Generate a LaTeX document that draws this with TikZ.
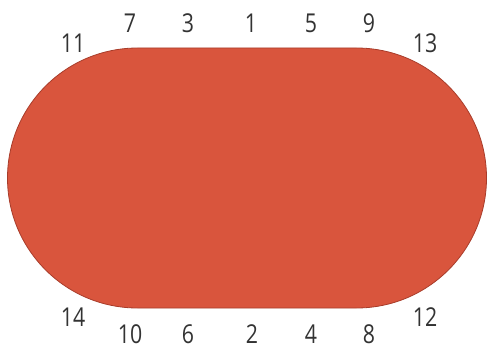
\documentclass[tikz,border=0pt]{standalone}
\usepackage{fontspec}
\setmainfont{Open Sans}[FakeStretch=0.82]
\usetikzlibrary{shapes.misc}
\definecolor{tablefill}{HTML}{D9553D}
\definecolor{tableedge}{HTML}{A83C2A}
\definecolor{seatnum}{HTML}{333333}
\tikzset{
  seat/.style={text=seatnum, font=\fontsize{26}{26}\selectfont, inner sep=0pt, anchor=center},
  table/.style={rounded rectangle, fill=tablefill, draw=tableedge, line width=0.8pt,
    minimum width=479pt, minimum height=260pt, inner sep=0pt}
}
\begin{document}
\begin{tikzpicture}[x=1pt, y=-1pt]
  \useasboundingbox (0,0) rectangle (487,350);
  \node[table] (tbl) at (247,178) {};
  % top side
  \node[seat] (s7) at (130,23) {7};
  \node[seat] (s3) at (188,23) {3};
  \node[seat] (s1) at (251,23) {1};
  \node[seat] (s5) at (311,23) {5};
  \node[seat] (s9) at (369,23) {9};
  \node[seat] (s11) at (73,43) {11};
  \node[seat] (s13) at (425,43) {13};
  % bottom side
  \node[seat] (s14) at (73,317) {14};
  \node[seat] (s10) at (130,334) {10};
  \node[seat] (s6) at (188,334) {6};
  \node[seat] (s2) at (252,334) {2};
  \node[seat] (s4) at (311,334) {4};
  \node[seat] (s8) at (369,334) {8};
  \node[seat] (s12) at (425,317) {12};
\end{tikzpicture}
\end{document}
